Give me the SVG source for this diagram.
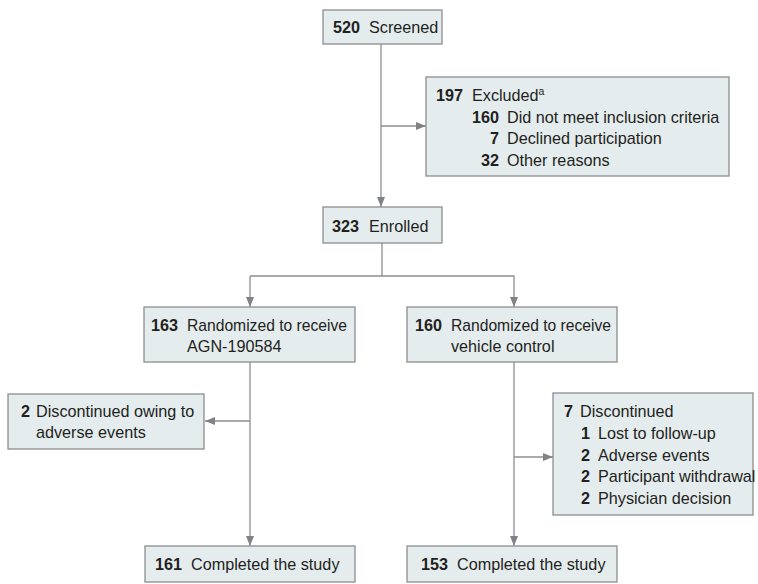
<svg xmlns="http://www.w3.org/2000/svg" width="758" height="584" viewBox="0 0 758 584">
<defs>
<marker id="ah" viewBox="0 0 10 10" refX="10" refY="5" markerWidth="10" markerHeight="10" markerUnits="userSpaceOnUse" orient="auto">
<path d="M0,1 L10,5 L0,9 Z" fill="#808285"/>
</marker>
<style>
.box{fill:#e5ecee;stroke:#8c8e90;stroke-width:1.3}
.t{font-family:"Liberation Sans",Arial,sans-serif;font-size:16.2px;fill:#231f20}
.b{font-weight:bold}
.ln{fill:none;stroke:#8c8e90;stroke-width:1.3}
.ar{marker-end:url(#ah)}
</style>
</defs>
<rect width="758" height="584" fill="#ffffff"/>
<g id="connectors">
<path class="ln ar" d="M381,44 V207"/>
<path class="ln ar" d="M381,126 H426"/>
<path class="ln" d="M382,243 V276 H250"/>
<path class="ln ar" d="M250,276 V307"/>
<path class="ln ar" d="M382,276 H514 V307"/>
<path class="ln ar" d="M250,362 V546"/>
<path class="ln ar" d="M250,421 H205"/>
<path class="ln ar" d="M514,362 V546"/>
<path class="ln ar" d="M514,457 H553"/>
</g>
<g id="screened">
<rect class="box" x="323" y="10" width="119" height="34"/>
<text class="t" x="333" y="33"><tspan class="b">520</tspan><tspan x="369">Screened</tspan></text>
</g>
<g id="excluded">
<rect class="box" x="426" y="77" width="303" height="99"/>
<text class="t" x="436" y="101"><tspan class="b">197</tspan><tspan x="472">Excluded</tspan><tspan font-size="10.5" dy="-6">a</tspan></text>
<text class="t b" x="499" y="122.5" text-anchor="end">160</text>
<text class="t" x="507" y="122.5">Did not meet inclusion criteria</text>
<text class="t b" x="499" y="144" text-anchor="end">7</text>
<text class="t" x="507" y="144">Declined participation</text>
<text class="t b" x="499" y="165.5" text-anchor="end">32</text>
<text class="t" x="507" y="165.5">Other reasons</text>
</g>
<g id="enrolled">
<rect class="box" x="323" y="207" width="119" height="36"/>
<text class="t" x="332" y="232"><tspan class="b">323</tspan><tspan x="369">Enrolled</tspan></text>
</g>
<g id="arm1">
<rect class="box" x="144" y="307" width="211" height="55"/>
<text class="t b" x="151" y="331">163</text>
<text class="t" x="187" y="331" textLength="160" lengthAdjust="spacingAndGlyphs">Randomized to receive</text>
<text class="t" x="187" y="352">AGN-190584</text>
</g>
<g id="arm2">
<rect class="box" x="407" y="307" width="210" height="55"/>
<text class="t b" x="415" y="331">160</text>
<text class="t" x="451" y="331" textLength="160" lengthAdjust="spacingAndGlyphs">Randomized to receive</text>
<text class="t" x="451" y="352">vehicle control</text>
</g>
<g id="disc1">
<rect class="box" x="8" y="394" width="196" height="55"/>
<text class="t" x="21" y="417"><tspan class="b">2</tspan><tspan x="36">Discontinued owing to</tspan></text>
<text class="t" x="36" y="438">adverse events</text>
</g>
<g id="disc2">
<rect class="box" x="553" y="393" width="200" height="122"/>
<text class="t" x="564" y="417"><tspan class="b">7</tspan><tspan x="580">Discontinued</tspan></text>
<text class="t b" x="590" y="439" text-anchor="end">1</text>
<text class="t" x="598" y="439">Lost to follow-up</text>
<text class="t b" x="590" y="460.5" text-anchor="end">2</text>
<text class="t" x="598" y="460.5">Adverse events</text>
<text class="t b" x="590" y="482" text-anchor="end">2</text>
<text class="t" x="598" y="482">Participant withdrawal</text>
<text class="t b" x="590" y="504" text-anchor="end">2</text>
<text class="t" x="598" y="504">Physician decision</text>
</g>
<g id="completed1">
<rect class="box" x="145" y="546" width="210" height="36"/>
<text class="t" x="155" y="570"><tspan class="b">161</tspan><tspan x="191">Completed the study</tspan></text>
</g>
<g id="completed2">
<rect class="box" x="407" y="546" width="210" height="36"/>
<text class="t" x="421" y="570"><tspan class="b">153</tspan><tspan x="457">Completed the study</tspan></text>
</g>
</svg>
